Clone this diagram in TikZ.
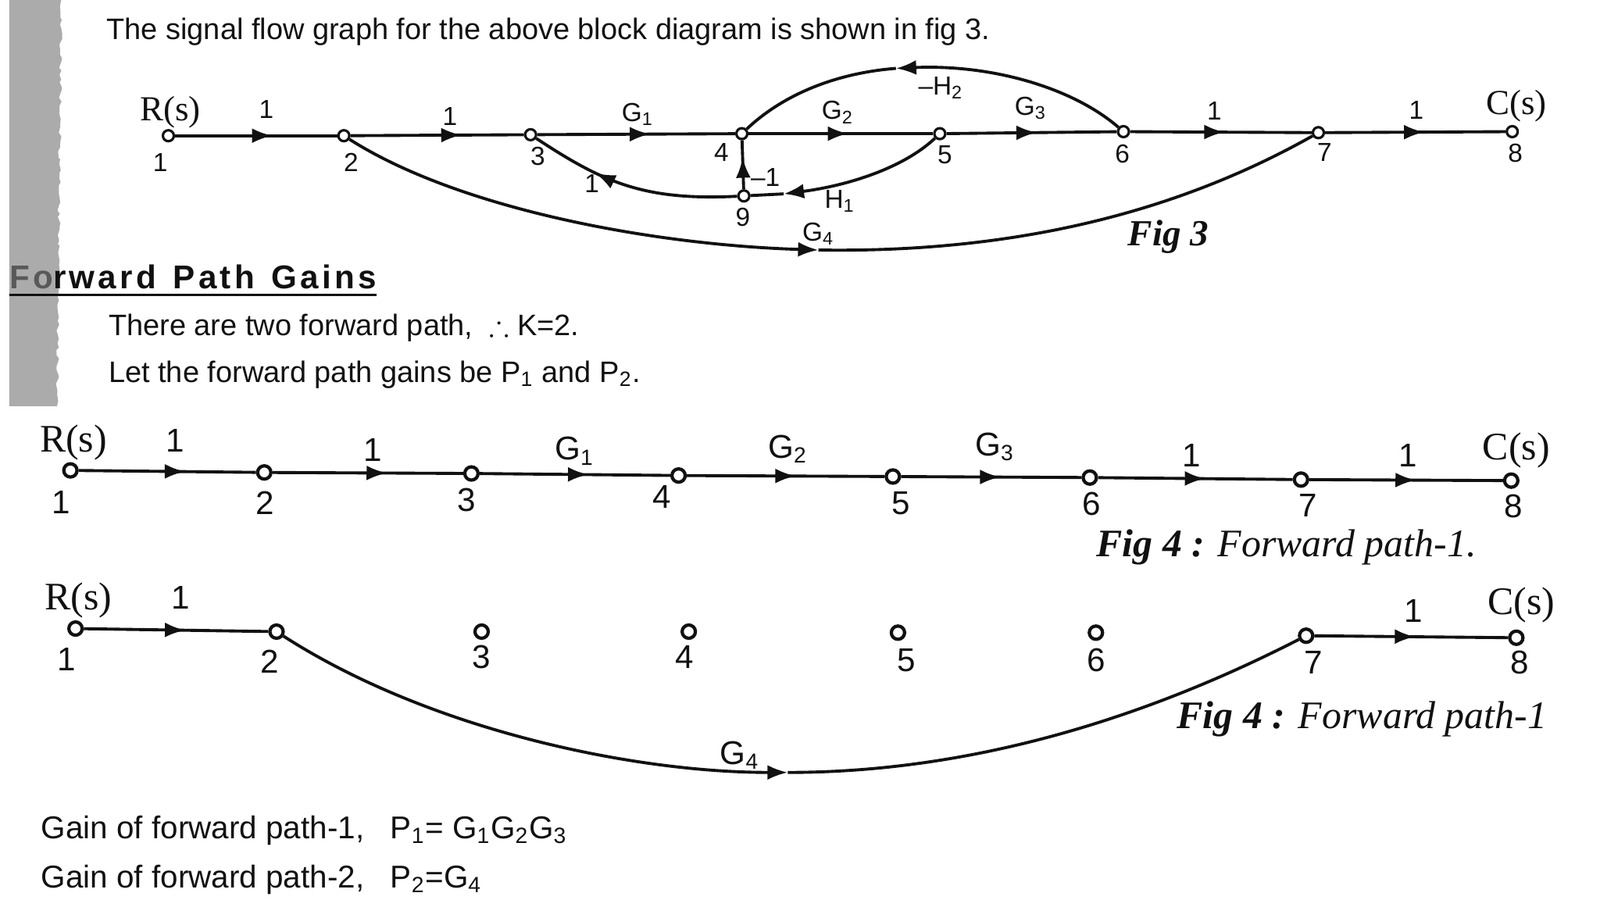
\documentclass[tikz,border=0pt]{standalone}
\usepackage{fontspec}
\usepackage{amssymb}
\setmainfont{Liberation Sans}
\newfontfamily\serifface{Liberation Serif}
\newfontfamily\headface[LetterSpace=10]{Liberation Sans}
\usetikzlibrary{arrows.meta,decorations.markings,decorations.pathmorphing}
\definecolor{stripgrey}{HTML}{ABABAB}
\definecolor{inkblack}{HTML}{111111}

\tikzset{sfgtip/.tip={Latex[length=0.26cm,width=0.19cm]}}

\begin{document}
\begin{tikzpicture}[x=0.0130612cm, y=-0.0130612cm, every node/.style={inner sep=0pt, text=inkblack},
                    sig/.style={circle, draw=inkblack, fill=white, line width=0.9pt, minimum size=0.14cm},
                    sigbig/.style={sig, line width=1.2pt, minimum size=0.17cm},
                    edge/.style={draw=inkblack, line width=1.1pt},
                    flow/.style={edge, postaction={decorate, decoration={markings, mark=at position #1 with {\arrow{sfgtip}}}}},
                    curve/.style={edge, -{sfgtip}},
                    body/.style={anchor=west, font=\fontsize{10.8}{12}\selectfont},
                    gainline/.style={anchor=west, font=\fontsize{11.5}{13}\selectfont},
                    num/.style={font=\fontsize{9.5}{10}\selectfont},
                    numbig/.style={font=\fontsize{12}{13}\selectfont},
                    ser/.style={font=\serifface\fontsize{12.8}{14}\selectfont},
                    serbig/.style={font=\serifface\fontsize{14.2}{15}\selectfont},
                    figcap/.style={anchor=west, font=\serifface\fontsize{14.2}{16}\selectfont}]
    \useasboundingbox (0,0) rectangle (1568,882);
    \fill[stripgrey] (9,0) -- (60,0) decorate[decoration={random steps, segment length=1.5pt, amplitude=0.6pt}] {-- (56,398)} -- (9,398) -- cycle;

    % fig 3
    \node (intro) [body] at (104,31) {The signal flow graph for the above block diagram is shown in fig 3.};
    \node (a1) [sig] at (165,133) {};
    \node (a2) [sig] at (337,133) {};
    \node (a3) [sig] at (520,132) {};
    \node (a4) [sig] at (727,131) {};
    \node (a5) [sig] at (921,131) {};
    \node (a6) [sig] at (1101,129) {};
    \node (a7) [sig] at (1292,130) {};
    \node (a8) [sig] at (1482,129) {};
    \node (a9) [sig] at (729,192) {};
    \coordinate (agfour) at (802,245);
    \coordinate (ahtwo) at (878,67);
    \coordinate (ahone) at (768,190);

    \draw[flow=0.6] (a1) -- (a2);
    \draw[flow=0.64] (a2) -- (a3);
    \draw[flow=0.57] (a3) -- (a4);
    \draw[flow=0.54] (a4) -- (a5);
    \draw[flow=0.53] (a5) -- (a6);
    \draw[flow=0.52] (a6) -- (a7);
    \draw[flow=0.55] (a7) -- (a8);
    \draw[curve] (a2) .. controls (450,205) and (640,240) .. (agfour);
    \draw[edge] (agfour) .. controls (990,248) and (1150,210) .. (a7);
    \draw[curve] (a6) .. controls (1050,85) and (970,63) .. (ahtwo);
    \draw[edge] (ahtwo) .. controls (815,72) and (765,95) .. (a4);
    \draw[curve] (a5) .. controls (885,165) and (830,182) .. (ahone);
    \draw[edge] (ahone) -- (a9);
    \draw[flow=0.68] (a9) .. controls (630,197) and (590,178) .. (a3);
    \draw[flow=0.65] (a9) -- (a4);

    \node (arin) [ser] at (167,110) {R(s)};
    \node (acout) [ser] at (1486,104) {C(s)};
    \node (ae1) [num] at (261,107) {1};
    \node (ae2) [num] at (441,114) {1};
    \node (ag1) [num] at (625,112) {G\textsubscript{1}};
    \node (ag2) [num] at (821,110) {G\textsubscript{2}};
    \node (ag3) [num] at (1010,106) {G\textsubscript{3}};
    \node (ae3) [num] at (1190,109) {1};
    \node (ae4) [num] at (1388,108) {1};
    \node (ag4) [num] at (802,229) {G\textsubscript{4}};
    \node (ah2) [num] at (922,86) {--H\textsubscript{2}};
    \node (ah1) [num] at (823,197) {H\textsubscript{1}};
    \node (ae5) [num] at (750,174) {--1};
    \node (ae6) [num] at (580,180) {1};
    \node (al1) [num] at (157,159) {1};
    \node (al2) [num] at (344,159) {2};
    \node (al3) [num] at (527,153) {3};
    \node (al4) [num] at (707,149) {4};
    \node (al5) [num] at (926,152) {5};
    \node (al6) [num] at (1100,151) {6};
    \node (al7) [num] at (1298,149) {7};
    \node (al8) [num] at (1485,150) {8};
    \node (al9) [num] at (728,213) {9};
    \node (afig) [font=\serifface\bfseries\itshape\fontsize{13.4}{15}\selectfont] at (1145,232) {Fig 3};

    % heading and text
    \node (head) [anchor=west, font=\headface\bfseries\fontsize{12}{14}\selectfont] at (9,271) {\textcolor{gray!70!black}{Fo}rward\hspace{0.06cm} Path\hspace{0.06cm} Gains};
    \coordinate (headl) at (9,289);
    \coordinate (headr) at (369,289);
    \draw[edge] (headl) -- (headr);
    \node (two) [body] at (106,321) {There are two forward path, \ $\therefore$ K=2.};
    \node (let) [body] at (106,367) {Let the forward path gains be P\textsubscript{1} and P\textsubscript{2}.};

    % forward path 1
    \node (b1) [sigbig] at (69,461) {};
    \node (b2) [sigbig] at (259,463) {};
    \node (b3) [sigbig] at (462,464) {};
    \node (b4) [sigbig] at (665,466) {};
    \node (b5) [sigbig] at (875,467) {};
    \node (b6) [sigbig] at (1068,468) {};
    \node (b7) [sigbig] at (1275,470) {};
    \node (b8) [sigbig] at (1481,471) {};
    \draw[flow=0.6] (b1) -- (b2);
    \draw[flow=0.6] (b2) -- (b3);
    \draw[flow=0.57] (b3) -- (b4);
    \draw[flow=0.55] (b4) -- (b5);
    \draw[flow=0.55] (b5) -- (b6);
    \draw[flow=0.55] (b6) -- (b7);
    \draw[flow=0.55] (b7) -- (b8);
    \node (brin) [serbig] at (72,434) {R(s)};
    \node (bcout) [serbig] at (1486,441) {C(s)};
    \node (be1) [numbig] at (172,432) {1};
    \node (be2) [numbig] at (365,441) {1};
    \node (bg1) [numbig] at (563,442) {G\textsubscript{1}};
    \node (bg2) [numbig] at (772,440) {G\textsubscript{2}};
    \node (bg3) [numbig] at (975,438) {G\textsubscript{3}};
    \node (be3) [numbig] at (1168,446) {1};
    \node (be4) [numbig] at (1380,446) {1};
    \node (bl1) [numbig] at (60,492) {1};
    \node (bl2) [numbig] at (260,493) {2};
    \node (bl3) [numbig] at (457,490) {3};
    \node (bl4) [numbig] at (649,487) {4};
    \node (bl5) [numbig] at (883,493) {5};
    \node (bl6) [numbig] at (1070,494) {6};
    \node (bl7) [numbig] at (1282,495) {7};
    \node (bl8) [numbig] at (1483,496) {8};
    \node (bfig) [figcap] at (1074,536) {\textbf{\textit{Fig 4 :}} \textit{Forward path-1.}};

    % forward path 2
    \node (c1) [sigbig] at (74,616) {};
    \node (c2) [sigbig] at (271,619) {};
    \node (c3) [sigbig] at (472,619) {};
    \node (c4) [sigbig] at (675,619) {};
    \node (c5) [sigbig] at (880,620) {};
    \node (c6) [sigbig] at (1074,620) {};
    \node (c7) [sigbig] at (1280,623) {};
    \node (c8) [sigbig] at (1486,625) {};
    \coordinate (cgfour) at (772,757);
    \draw[flow=0.55] (c1) -- (c2);
    \draw[flow=0.52] (c7) -- (c8);
    \draw[curve] (c2) .. controls (420,715) and (620,757) .. (cgfour);
    \draw[edge] (cgfour) .. controls (950,757) and (1120,705) .. (c7);
    \node (crin) [serbig] at (77,588) {R(s)};
    \node (ccout) [serbig] at (1491,593) {C(s)};
    \node (ce1) [numbig] at (177,586) {1};
    \node (ce2) [numbig] at (1385,599) {1};
    \node (cg4) [numbig] at (725,740) {G\textsubscript{4}};
    \node (cl1) [numbig] at (65,646) {1};
    \node (cl2) [numbig] at (264,648) {2};
    \node (cl3) [numbig] at (472,644) {3};
    \node (cl4) [numbig] at (671,644) {4};
    \node (cl5) [numbig] at (888,647) {5};
    \node (cl6) [numbig] at (1074,647) {6};
    \node (cl7) [numbig] at (1287,649) {7};
    \node (cl8) [numbig] at (1489,649) {8};
    \node (cfig) [figcap] at (1153,705) {\textbf{\textit{Fig 4 :}} \textit{Forward path-1}};

    % gains
    \node (gainone) [gainline] at (40,814) {Gain of forward path-1, \ \ P\textsubscript{1}= G\textsubscript{1}G\textsubscript{2}G\textsubscript{3}};
    \node (gaintwo) [gainline] at (40,862) {Gain of forward path-2, \ \ P\textsubscript{2}=G\textsubscript{4}};
\end{tikzpicture}
\end{document}
